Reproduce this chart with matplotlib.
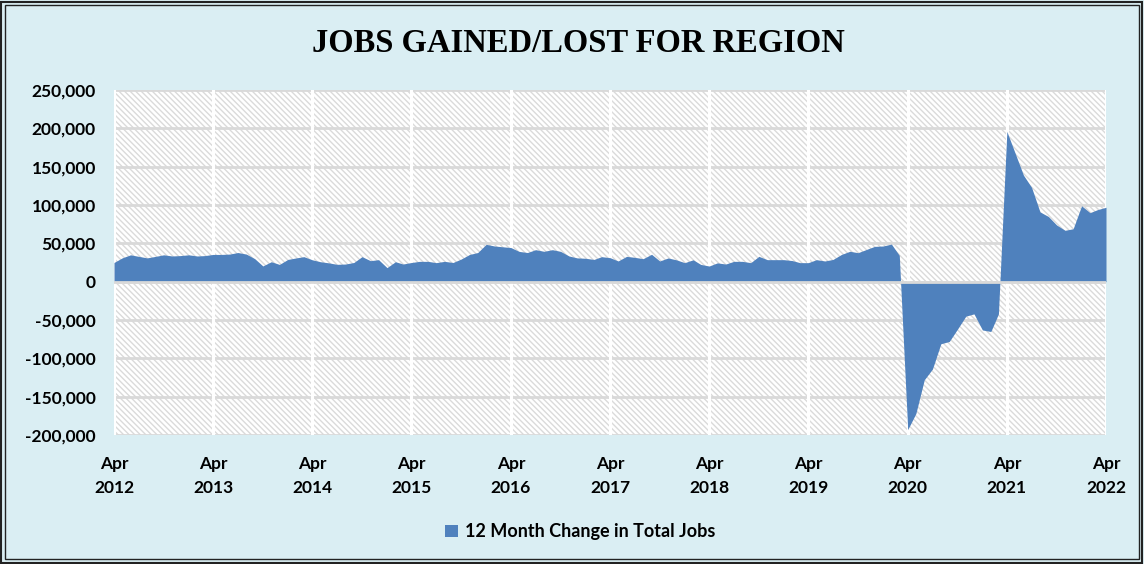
import numpy as np
import pandas as pd
import matplotlib
matplotlib.use('Agg')
import matplotlib.pyplot as plt
import matplotlib.dates as mdates
from matplotlib.patches import Rectangle, Patch
from matplotlib.ticker import FuncFormatter

# Monthly data, Apr 2012 .. Apr 2022
months = pd.date_range('2012-04-01', '2022-04-01', freq='MS')
jobs_change = [
    25000, 31000, 35000, 33000, 31000, 33000, 35000, 33500, 34000, 35000, 33500, 34000,  # Apr12-Mar13
    35500, 35500, 36000, 38000, 36000, 30000, 20500, 26000, 22500, 29000, 31000, 32600,  # Apr13-Mar14
    28500, 26000, 24500, 22600, 23000, 25000, 32600, 27400, 28700, 18300, 26000, 23000,  # Apr14-Mar15
    25000, 26500, 26500, 24800, 26500, 25000, 29500, 35500, 38000, 48700, 46500, 45500,  # Apr15-Mar16
    44500, 39500, 38000, 41700, 39600, 41700, 39500, 33500, 31000, 30500, 29000, 32600,  # Apr16-Mar17
    31300, 27000, 33000, 31700, 30000, 35700, 27000, 30900, 28500, 24800, 28500, 22500,  # Apr17-Mar18
    20400, 24500, 23000, 26500, 26500, 24800, 33000, 28700, 28700, 28700, 27500, 24800,  # Apr18-Mar19
    24800, 28700, 27000, 29000, 35500, 39600, 37800, 42000, 46000, 46500, 49000, 34300,  # Apr19-Mar20
    -193000, -172000, -128000, -114000, -81000, -78000, -62000, -45000, -42000, -63000, -65000, -42000,  # Apr20-Mar21
    196000, 168000, 139000, 123000, 91000, 85000, 74000, 67000, 69000, 99000, 90000, 94000,  # Apr21-Mar22
    97000,  # Apr22
]
series_label = '12 Month Change in Total Jobs'
title = 'JOBS GAINED/LOST FOR REGION'
y_ticks = [-200000, -150000, -100000, -50000, 0, 50000, 100000, 150000, 200000, 250000]

bg = '#DAEEF3'
blue = '#4F81BD'
grid_grey = '#D9D9D9'

plt.rcParams['font.family'] = ['Lato', 'DejaVu Sans']
plt.rcParams['hatch.linewidth'] = 1.0

fig = plt.figure(figsize=(11.44, 5.64), dpi=100, facecolor=bg)
ax = fig.add_axes([114 / 1144, 1 - 435 / 564, (1106 - 114) / 1144, (435 - 90) / 564])
ax.set_facecolor('white')

x = mdates.date2num(months.to_pydatetime())
y = np.array(jobs_change, dtype=float)

# hatched plot background
ax.add_patch(Rectangle((0, 0), 1, 1, transform=ax.transAxes, facecolor='white',
                       edgecolor='#DADADA', hatch='\\' * 6, linewidth=0, zorder=0))

ax.set_xlim(x[0], x[-1])
ax.set_ylim(-200000, 250000)

# gridlines
for v in y_ticks:
    ax.axhline(v, color=grid_grey, lw=2, zorder=1)
april_ticks = x[::12]
for t in april_ticks:
    ax.axvline(t, color='white', lw=2.2, zorder=1)

ax.fill_between(x, y, 0, color=blue, lw=0, interpolate=True, zorder=2)
ax.axhline(0, color=grid_grey, lw=2, zorder=3)

for s in ax.spines.values():
    s.set_visible(False)

ax.set_yticks(y_ticks)
ax.yaxis.set_major_formatter(FuncFormatter(lambda v, p: f'{v:,.0f}'))
ax.set_xticks(april_ticks)
ax.set_xticklabels([d.strftime('%b\n%Y') for d in months[::12]], linespacing=1.65)
ax.tick_params(axis='both', length=0, labelsize=12.5)
ax.tick_params(axis='y', pad=13)
ax.tick_params(axis='x', pad=15)
for lbl in ax.get_xticklabels() + ax.get_yticklabels():
    lbl.set_fontweight('bold')

fig.text(0.506, 0.922, title, ha='center', va='center', fontsize=23.5,
         fontweight='bold', family=['Liberation Serif', 'DejaVu Serif'])

leg = fig.legend(handles=[Patch(facecolor=blue, edgecolor='none', label=series_label)],
                 loc='center', bbox_to_anchor=(0.507, 0.057), frameon=False,
                 handlelength=0.7, handleheight=0.7, handletextpad=0.4,
                 prop={'weight': 'bold', 'size': 13})

# double border
fig.add_artist(Rectangle((1 / 1144, 1 / 564), 1 - 3 / 1144, 1 - 3 / 564, transform=fig.transFigure,
                         fill=False, edgecolor='#222222', lw=1.5))
fig.add_artist(Rectangle((5 / 1144, 5 / 564), 1 - 10 / 1144, 1 - 10 / 564, transform=fig.transFigure,
                         fill=False, edgecolor='#222222', lw=1.0))

fig.savefig('out.png', dpi=100, facecolor=bg)
